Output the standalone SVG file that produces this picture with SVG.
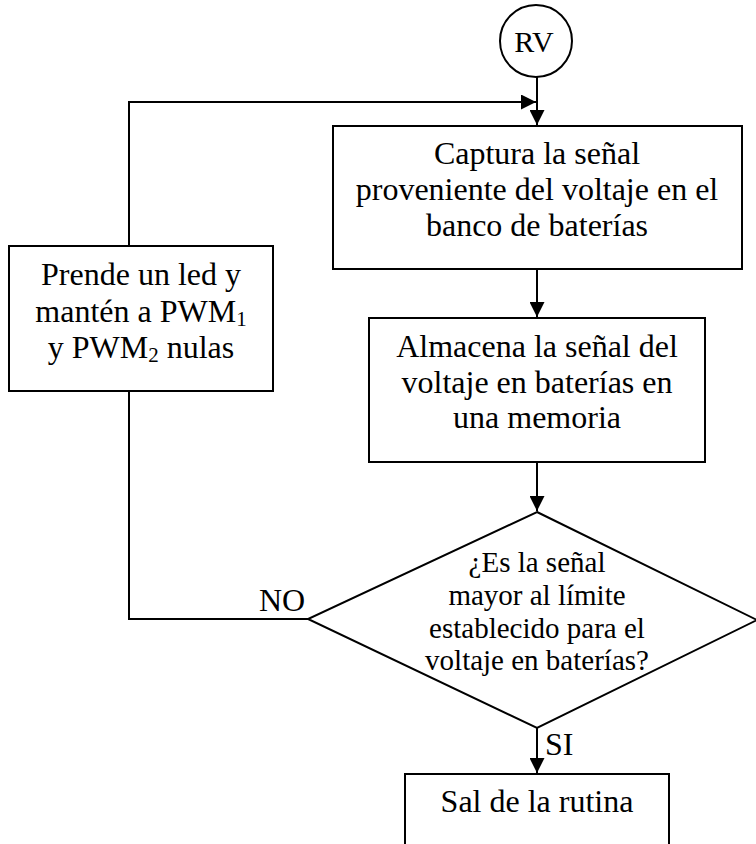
<svg xmlns="http://www.w3.org/2000/svg" width="756" height="844" viewBox="0 0 756 844">
<style>
.box{fill:#fff;stroke:#000;stroke-width:2}
.ln{fill:none;stroke:#000;stroke-width:2}
text{font-family:"Liberation Serif","DejaVu Serif",serif;font-size:32px;fill:#000}
.c{text-anchor:middle}
.d{font-size:29px}
.rv{font-size:30px}
.sub{font-size:21px}
</style>
<defs>
<marker id="ah" markerUnits="userSpaceOnUse" markerWidth="15" markerHeight="15" viewBox="0 0 15 15" refX="15" refY="7.5" orient="auto">
<path d="M0,0 L15,7.5 L0,15 Z" fill="#000"/>
</marker>
</defs>
<rect width="756" height="844" fill="#fff"/>
<g id="connectors">
<path class="ln" d="M537,77 V125" marker-end="url(#ah)"/>
<path class="ln" d="M129,246 V102 H536" marker-end="url(#ah)"/>
<path class="ln" d="M537,269 V317" marker-end="url(#ah)"/>
<path class="ln" d="M537,462 V511" marker-end="url(#ah)"/>
<path class="ln" d="M308,619 H129 V391"/>
<path class="ln" d="M537,728 V773" marker-end="url(#ah)"/>
<text x="259" y="611">NO</text>
<text x="545" y="755">SI</text>
</g>
<g id="rv">
<circle class="box" cx="536" cy="41" r="36"/>
<text class="c rv" x="534" y="52">RV</text>
</g>
<g id="captura">
<rect class="box" x="333" y="126" width="409" height="143"/>
<text class="c" x="537" y="164">Captura la señal</text>
<text class="c" x="537" y="200">proveniente del voltaje en el</text>
<text class="c" x="537" y="236">banco de baterías</text>
</g>
<g id="almacena">
<rect class="box" x="369" y="318" width="336" height="144"/>
<text class="c" x="537" y="357">Almacena la señal del</text>
<text class="c" x="537" y="393">voltaje en baterías en</text>
<text class="c" x="537" y="428">una memoria</text>
</g>
<g id="prende">
<rect class="box" x="9" y="246" width="264" height="145"/>
<text class="c" x="141" y="285">Prende un led y</text>
<text class="c" x="141" y="322">mantén a PWM<tspan class="sub" dy="4">1</tspan></text>
<text class="c" x="141" y="358">y PWM<tspan class="sub" dy="4">2</tspan><tspan dy="-4"> nulas</tspan></text>
</g>
<g id="decision">
<path class="box" d="M537,512 L757,620 L537,728 L308,619 Z"/>
<text class="c d" x="537" y="572">¿Es la señal</text>
<text class="c d" x="537" y="605">mayor al límite</text>
<text class="c d" x="537" y="638">establecido para el</text>
<text class="c d" x="537" y="670">voltaje en baterías?</text>
</g>
<g id="salida">
<rect class="box" x="405" y="774" width="264" height="100"/>
<text class="c" x="537" y="812">Sal de la rutina</text>
</g>
</svg>
